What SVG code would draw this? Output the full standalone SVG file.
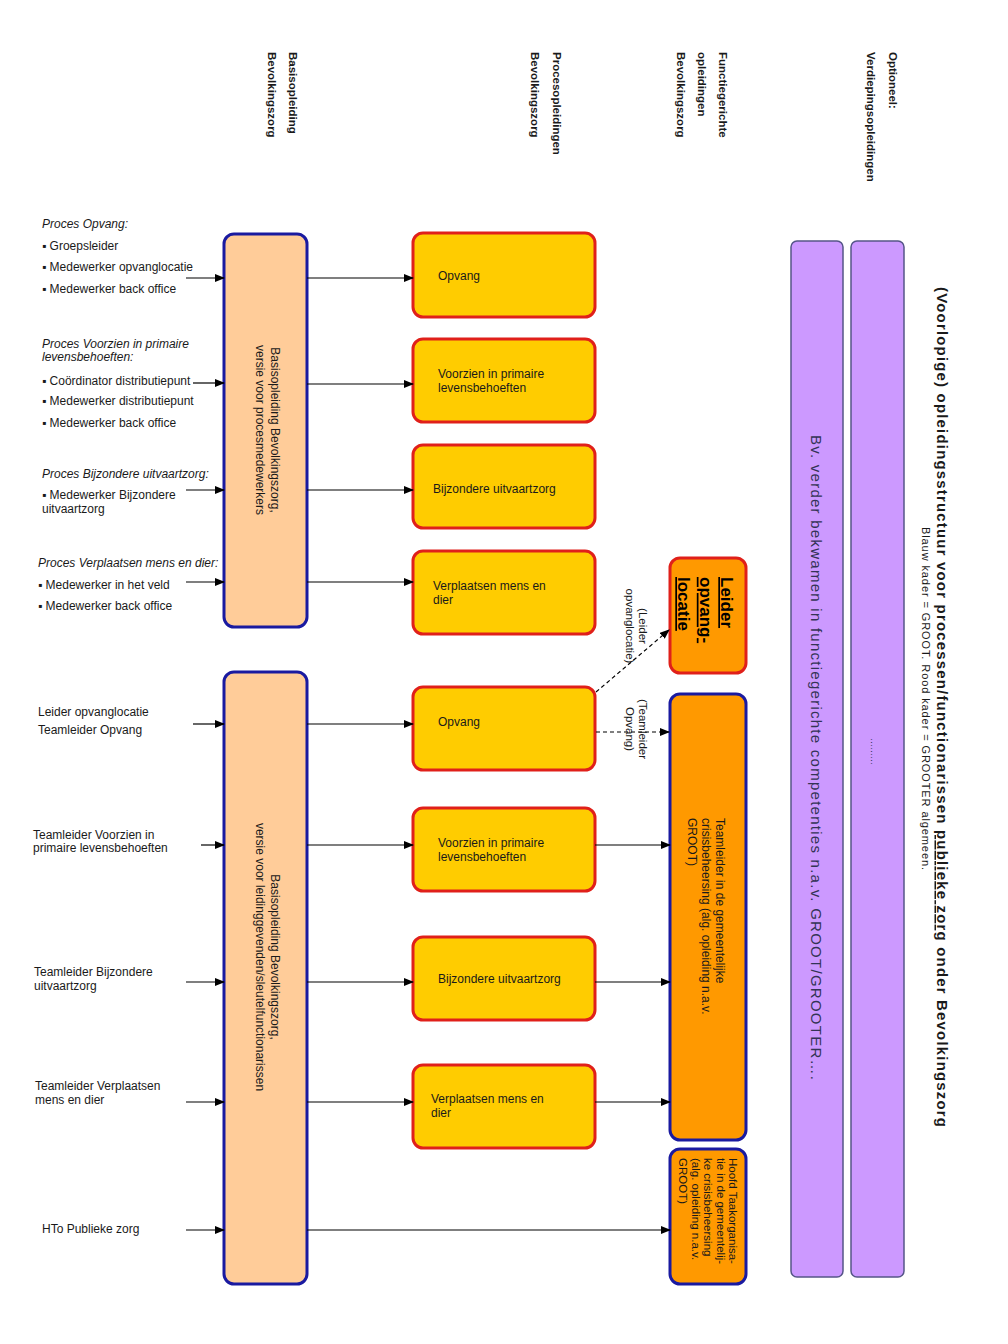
<svg xmlns="http://www.w3.org/2000/svg" width="1008" height="1344" viewBox="0 0 1008 1344">
<style>
text{font-family:"Liberation Sans",Arial,sans-serif;fill:#1a1a1a}
.hdr{font-size:11.5px;font-weight:bold}
.lbl{font-size:12px}
.it{font-size:12px;font-style:italic}
.box{font-size:12px}
.basis{fill:#FFCC99;stroke:#1a1aa0;stroke-width:3}
.proc{fill:#FFCC00;stroke:#E0201A;stroke-width:3}
.funcB{fill:#FF9900;stroke:#1a1aa0;stroke-width:3}
.funcR{fill:#FF9900;stroke:#E0201A;stroke-width:3}
.purp{fill:#CC99FF;stroke:#555588;stroke-width:1.5}
.c{stroke:#000;stroke-width:1.2;fill:none;marker-end:url(#ah)}
.d{stroke:#000;stroke-width:1.2;fill:none;stroke-dasharray:4 3;marker-end:url(#ah)}
</style>
<defs>
<marker id="ah" markerUnits="userSpaceOnUse" markerWidth="10" markerHeight="8" refX="9" refY="4" orient="auto">
<path d="M0,0 L10,4 L0,8 z" fill="#000"/>
</marker>
</defs>
<rect width="1008" height="1344" fill="#fff"/>

<!-- headers -->
<g id="headers">
<text class="hdr" transform="translate(289,52) rotate(90)">Basisopleiding<tspan x="0" dy="21">Bevolkingszorg</tspan></text>
<text class="hdr" transform="translate(553,52) rotate(90)">Procesopleidingen<tspan x="0" dy="22">Bevolkingszorg</tspan></text>
<text class="hdr" transform="translate(719,52) rotate(90)">Functiegerichte<tspan x="0" dy="21">opleidingen</tspan><tspan x="0" dy="21">Bevolkingszorg</tspan></text>
<text class="hdr" transform="translate(889,52) rotate(90)">Optioneel:<tspan x="0" dy="22">Verdiepingsopleidingen</tspan></text>
</g>

<g id="title">
<text transform="translate(937,287) rotate(90)" style="font-size:15px;font-weight:bold" textLength="840" lengthAdjust="spacing">(Voorlopige) opleidingsstructuur voor processen/functionarissen <tspan text-decoration="underline">publieke zorg</tspan> onder Bevolkingszorg</text>
<text transform="translate(922,527) rotate(90)" style="font-size:11px" textLength="343" lengthAdjust="spacing">Blauw kader = GROOT. Rood kader = GROOTER algemeen.</text>
</g>

<!-- purple columns -->
<g id="verdieping1">
<rect class="purp" x="791" y="241" width="52" height="1036" rx="6"/>
<text transform="translate(811,435) rotate(90)" style="font-size:15px;fill:#333355" textLength="645" lengthAdjust="spacing">Bv. verder bekwamen in functiegerichte competenties n.a.v. GROOT/GROOTER….</text>
</g>
<g id="verdieping2">
<rect class="purp" x="851" y="241" width="53" height="1036" rx="6"/>
<text transform="translate(871,738) rotate(90)" style="font-size:9px;fill:#333355">………</text>
</g>

<!-- left labels top -->
<g id="labels-top">
<text class="it" x="42" y="228">Proces Opvang:</text>
<text class="lbl" x="42" y="250">▪ Groepsleider</text>
<text class="lbl" x="42" y="271">▪ Medewerker opvanglocatie</text>
<text class="lbl" x="42" y="293">▪ Medewerker back office</text>
<text class="it" x="42" y="348">Proces Voorzien in primaire</text>
<text class="it" x="42" y="361">levensbehoeften:</text>
<text class="lbl" x="42" y="385">▪ Coördinator distributiepunt</text>
<text class="lbl" x="42" y="405">▪ Medewerker distributiepunt</text>
<text class="lbl" x="42" y="427">▪ Medewerker back office</text>
<text class="it" x="42" y="478">Proces Bijzondere uitvaartzorg:</text>
<text class="lbl" x="42" y="499">▪ Medewerker Bijzondere</text>
<text class="lbl" x="42" y="513">uitvaartzorg</text>
<text class="it" x="38" y="567">Proces Verplaatsen mens en dier:</text>
<text class="lbl" x="38" y="589">▪ Medewerker in het veld</text>
<text class="lbl" x="38" y="610">▪ Medewerker back office</text>
</g>

<!-- left labels bottom -->
<g id="labels-bottom">
<text class="lbl" x="38" y="716">Leider opvanglocatie</text>
<text class="lbl" x="38" y="734">Teamleider Opvang</text>
<text class="lbl" x="33" y="839">Teamleider Voorzien in</text>
<text class="lbl" x="33" y="852">primaire levensbehoeften</text>
<text class="lbl" x="34" y="976">Teamleider Bijzondere</text>
<text class="lbl" x="34" y="990">uitvaartzorg</text>
<text class="lbl" x="35" y="1090">Teamleider Verplaatsen</text>
<text class="lbl" x="35" y="1104">mens en dier</text>
<text class="lbl" x="42" y="1233">HTo Publieke zorg</text>
</g>

<!-- basis boxes -->
<g id="basis-proces">
<rect class="basis" x="224" y="234" width="83" height="393" rx="10"/>
<text class="box" transform="translate(271,430) rotate(90)" text-anchor="middle">Basisopleiding Bevolkingszorg,<tspan x="0" dy="15">versie voor procesmedewerkers</tspan></text>
</g>
<g id="basis-leiding">
<rect class="basis" x="224" y="672" width="83" height="612" rx="10"/>
<text class="box" transform="translate(271,957) rotate(90)" text-anchor="middle">Basisopleiding Bevolkingszorg,<tspan x="0" dy="15">versie voor leidinggevenden/sleutelfunctionarissen</tspan></text>
</g>

<!-- process boxes top -->
<g id="p-opvang-1"><rect class="proc" x="413" y="233" width="182" height="84" rx="10"/><text class="box" x="438" y="280">Opvang</text></g>
<g id="p-voorzien-1"><rect class="proc" x="413" y="339" width="182" height="83" rx="10"/><text class="box" x="438" y="378">Voorzien in primaire<tspan x="438" dy="14">levensbehoeften</tspan></text></g>
<g id="p-bijzondere-1"><rect class="proc" x="413" y="445" width="182" height="83" rx="10"/><text class="box" x="433" y="493">Bijzondere uitvaartzorg</text></g>
<g id="p-verplaatsen-1"><rect class="proc" x="413" y="551" width="182" height="83" rx="10"/><text class="box" x="433" y="590">Verplaatsen mens en<tspan x="433" dy="14">dier</tspan></text></g>

<!-- process boxes bottom -->
<g id="p-opvang-2"><rect class="proc" x="413" y="687" width="182" height="83" rx="10"/><text class="box" x="438" y="726">Opvang</text></g>
<g id="p-voorzien-2"><rect class="proc" x="413" y="808" width="182" height="83" rx="10"/><text class="box" x="438" y="847">Voorzien in primaire<tspan x="438" dy="14">levensbehoeften</tspan></text></g>
<g id="p-bijzondere-2"><rect class="proc" x="413" y="937" width="182" height="83" rx="10"/><text class="box" x="438" y="983">Bijzondere uitvaartzorg</text></g>
<g id="p-verplaatsen-2"><rect class="proc" x="413" y="1065" width="182" height="83" rx="10"/><text class="box" x="431" y="1103">Verplaatsen mens en<tspan x="431" dy="14">dier</tspan></text></g>

<!-- function boxes -->
<g id="f-leider">
<rect class="funcR" x="670" y="558" width="76" height="115" rx="10"/>
<text transform="translate(721,577) rotate(90)" style="font-size:17px;font-weight:bold;fill:#000" text-decoration="underline">Leider<tspan x="0" dy="21.5">opvang-</tspan><tspan x="0" dy="21.5">locatie</tspan></text>
</g>
<g id="f-teamleider">
<rect class="funcB" x="670" y="694" width="76" height="446" rx="10"/>
<text class="box" transform="translate(716,818) rotate(90)">Teamleider in de gemeentelijke<tspan x="0" dy="14">crisisbeheersing (alg. opleiding n.a.v.</tspan><tspan x="0" dy="14">GROOT)</tspan></text>
</g>
<g id="f-hoofd">
<rect class="funcB" x="670" y="1149" width="76" height="135" rx="10"/>
<text class="box" transform="translate(729,1158) rotate(90)" style="font-size:11.5px">Hoofd Taakorganisa-<tspan x="0" dy="12.5">tie in de gemeentelij-</tspan><tspan x="0" dy="12.5">ke crisisbeheersing</tspan><tspan x="0" dy="12.5">(alg. opleiding n.a.v.</tspan><tspan x="0" dy="12.5">GROOT)</tspan></text>
</g>

<!-- connectors -->
<g id="connectors">
<line class="c" x1="186" y1="278" x2="224" y2="278"/>
<line class="c" x1="193" y1="383" x2="224" y2="383"/>
<line class="c" x1="186" y1="490" x2="224" y2="490"/>
<line class="c" x1="186" y1="582" x2="224" y2="582"/>
<line class="c" x1="307" y1="278" x2="413" y2="278"/>
<line class="c" x1="307" y1="384" x2="413" y2="384"/>
<line class="c" x1="307" y1="490" x2="413" y2="490"/>
<line class="c" x1="307" y1="582" x2="413" y2="582"/>

<line class="c" x1="193" y1="724" x2="224" y2="724"/>
<line class="c" x1="201" y1="845" x2="224" y2="845"/>
<line class="c" x1="186" y1="982" x2="224" y2="982"/>
<line class="c" x1="186" y1="1102" x2="224" y2="1102"/>
<line class="c" x1="186" y1="1230" x2="224" y2="1230"/>
<line class="c" x1="307" y1="724" x2="413" y2="724"/>
<line class="c" x1="307" y1="845" x2="413" y2="845"/>
<line class="c" x1="307" y1="982" x2="413" y2="982"/>
<line class="c" x1="307" y1="1102" x2="413" y2="1102"/>
<line class="c" x1="307" y1="1230" x2="670" y2="1230"/>
<line class="c" x1="595" y1="845" x2="670" y2="845"/>
<line class="c" x1="595" y1="982" x2="670" y2="982"/>
<line class="c" x1="595" y1="1102" x2="670" y2="1102"/>

<line class="d" x1="596" y1="692" x2="669" y2="630"/>
<line class="d" x1="596" y1="732" x2="669" y2="732"/>
<text transform="translate(639,626) rotate(90)" text-anchor="middle" style="font-size:11.5px">(Leider<tspan x="0" dy="13">opvanglocatie)</tspan></text>
<text transform="translate(639,729) rotate(90)" text-anchor="middle" style="font-size:11.5px">(Teamleider<tspan x="0" dy="13">Opvang)</tspan></text>
</g>
</svg>
